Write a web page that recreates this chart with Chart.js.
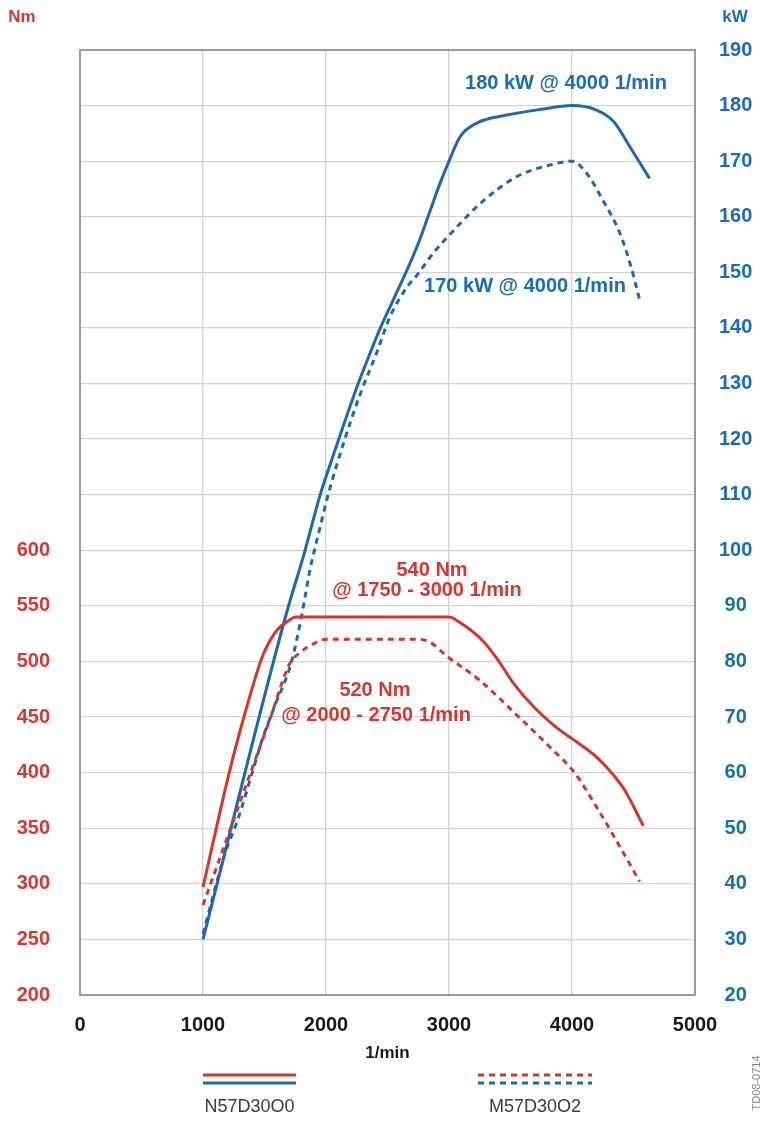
<!DOCTYPE html>
<html>
<head>
<meta charset="utf-8">
<title>N57D30O0 / M57D30O2 – Drehmoment und Leistung</title>
<script src="https://cdn.jsdelivr.net/npm/chart.js@4.4.1/dist/chart.umd.min.js"></script>
<style>
  html, body { margin: 0; padding: 0; background: #ffffff; }
  #wrap { position: relative; width: 769px; height: 1121px; }
  canvas { display: block; }
</style>
</head>
<body>
<div id="wrap"><canvas id="c" width="769" height="1121"></canvas></div>
<script>
// Engine speed axis (1/min)
const rpmTicks = [0, 1000, 2000, 3000, 4000, 5000];

// N57D30O0 torque curve (Nm)
const n57TorqueRpm = [1000, 1200, 1300, 1400, 1450, 1500, 1600, 1700, 1750, 3000, 3090, 3280, 3400, 3520, 3690, 3880, 4020, 4200, 4320, 4430, 4580];
const n57TorqueNm  = [297, 394, 437, 476, 494, 509, 528, 537, 540, 540, 535, 518, 501, 481, 459, 440, 429, 414, 400, 384, 352];

// M57D30O2 torque curve (Nm)
const m57TorqueRpm = [1000, 1130, 1400, 1550, 1700, 1800, 1900, 2000, 2750, 2850, 2980, 3250, 3550, 3820, 4020, 4200, 4360, 4550];
const m57TorqueNm  = [281, 321, 404, 450, 497, 509, 516, 520, 520, 517, 505, 483, 452, 423, 400, 369, 339, 302];

// N57D30O0 power curve (kW)
const n57PowerRpm = [1000, 1670, 1830, 1950, 2050, 2150, 2250, 2350, 2450, 2550, 2650, 2750, 2850, 2920, 3000, 3090, 3230, 3470, 3740, 4000, 4200, 4340, 4470, 4630];
const n57PowerKw  = [30, 88, 100, 109.8, 116.5, 123, 129.3, 135, 140.4, 145.2, 150, 155.2, 161.3, 165.6, 170, 174.4, 176.9, 178.3, 179.3, 180, 179.2, 177.1, 172.6, 166.9];

// M57D30O2 power curve (kW)
const m57PowerRpm = [1000, 1180, 1290, 1400, 1490, 1580, 1720, 1800, 1870, 1950, 2020, 2150, 2290, 2410, 2520, 2660, 2740, 2870, 3040, 3260, 3550, 3820, 4000, 4120, 4250, 4390, 4480, 4550];
const m57PowerKw  = [31, 45.5, 52, 60, 66.5, 71.8, 80, 88, 96.5, 104, 110.2, 119.8, 128.8, 135.4, 142, 147.4, 149.5, 153.4, 157.6, 162.5, 167.2, 169.3, 170, 167.8, 163, 157, 151, 145];

// Axis tick values
const torqueTicks = [200, 250, 300, 350, 400, 450, 500, 550, 600];
const powerTicks  = [20, 30, 40, 50, 60, 70, 80, 90, 100, 110, 120, 130, 140, 150, 160, 170, 180, 190];

// Rated-value captions, anchored in data units on the named axis
const captions = [
  { text: '180 kW @ 4000 1/min',  rpm: 3951, value: 183.9, axis: 'yKw', color: 'blue' },
  { text: '170 kW @ 4000 1/min',  rpm: 3618, value: 147.4, axis: 'yKw', color: 'blue' },
  { text: '540 Nm',               rpm: 2862, value: 581.5, axis: 'yNm', color: 'red' },
  { text: '@ 1750 - 3000 1/min',  rpm: 2821, value: 563.5, axis: 'yNm', color: 'red' },
  { text: '520 Nm',               rpm: 2398, value: 473.5, axis: 'yNm', color: 'red' },
  { text: '@ 2000 - 2750 1/min',  rpm: 2407, value: 451.5, axis: 'yNm', color: 'red' }
];

const RED = '#d5362c';
const BLUE = '#1f67b1';
const RED_TEXT = '#d23a30';
const BLUE_TEXT = '#1b6cb6';
const FONT = '"Liberation Sans", Arial, Helvetica, sans-serif';
const DASH = [6, 5];

const pairs = (xs, ys) => xs.map((x, i) => ({ x: x, y: ys[i] }));

// Frame around the plot area
const framePlugin = {
  id: 'frame',
  afterDraw(chart) {
    const { ctx, chartArea: a } = chart;
    ctx.save();
    ctx.strokeStyle = '#9a9a9a';
    ctx.lineWidth = 2;
    ctx.strokeRect(a.left, a.top, a.right - a.left, a.bottom - a.top);
    ctx.restore();
  }
};

// Rated-value captions and axis unit labels
const textPlugin = {
  id: 'texts',
  afterDatasetsDraw(chart) {
    const { ctx, scales } = chart;
    ctx.save();
    ctx.font = 'bold 20px ' + FONT;
    ctx.textAlign = 'center';
    ctx.textBaseline = 'middle';
    captions.forEach(c => {
      ctx.fillStyle = c.color === 'red' ? RED_TEXT : BLUE_TEXT;
      ctx.fillText(c.text, scales.x.getPixelForValue(c.rpm), scales[c.axis].getPixelForValue(c.value));
    });
    ctx.font = 'bold 17px ' + FONT;
    ctx.fillStyle = RED_TEXT;
    ctx.fillText('Nm', 22, 17);
    ctx.fillStyle = BLUE_TEXT;
    ctx.fillText('kW', 735, 17);
    ctx.restore();
  }
};

// Engine legend below the axis
const legendPlugin = {
  id: 'engineLegend',
  afterDraw(chart) {
    const { ctx } = chart;
    const entries = [
      { label: 'N57D30O0', x0: 203, x1: 296, dash: [] },
      { label: 'M57D30O2', x0: 478, x1: 592, dash: DASH }
    ];
    ctx.save();
    entries.forEach(e => {
      ctx.lineWidth = 3;
      ctx.setLineDash(e.dash);
      ctx.strokeStyle = RED;
      ctx.beginPath(); ctx.moveTo(e.x0, 1075); ctx.lineTo(e.x1, 1075); ctx.stroke();
      ctx.strokeStyle = BLUE;
      ctx.beginPath(); ctx.moveTo(e.x0, 1083); ctx.lineTo(e.x1, 1083); ctx.stroke();
      ctx.setLineDash([]);
      ctx.font = '18px ' + FONT;
      ctx.fillStyle = '#3a3a3a';
      ctx.textAlign = 'center';
      ctx.textBaseline = 'middle';
      ctx.fillText(e.label, (e.x0 + e.x1) / 2, 1107);
    });
    ctx.translate(757, 1083);
    ctx.rotate(-Math.PI / 2);
    ctx.font = '11px ' + FONT;
    ctx.fillStyle = '#8a8a8a';
    ctx.fillText('TD08-0714', 0, 0);
    ctx.restore();
  }
};

const lineStyle = (color, dashed) => ({
  borderColor: color,
  backgroundColor: color,
  borderWidth: 3,
  borderDash: dashed ? DASH : [],
  pointRadius: 0,
  fill: false,
  cubicInterpolationMode: 'monotone'
});

const plainNumber = v => String(v);

new Chart(document.getElementById('c'), {
  type: 'line',
  data: {
    datasets: [
      Object.assign({ label: 'N57D30O0 Nm', data: pairs(n57TorqueRpm, n57TorqueNm), yAxisID: 'yNm' }, lineStyle(RED, false)),
      Object.assign({ label: 'M57D30O2 Nm', data: pairs(m57TorqueRpm, m57TorqueNm), yAxisID: 'yNm' }, lineStyle(RED, true)),
      Object.assign({ label: 'N57D30O0 kW', data: pairs(n57PowerRpm, n57PowerKw), yAxisID: 'yKw' }, lineStyle(BLUE, false)),
      Object.assign({ label: 'M57D30O2 kW', data: pairs(m57PowerRpm, m57PowerKw), yAxisID: 'yKw' }, lineStyle(BLUE, true))
    ]
  },
  options: {
    responsive: false,
    devicePixelRatio: 1,
    animation: false,
    layout: { padding: { top: 50, left: 0, right: 0, bottom: 0 } },
    plugins: { legend: { display: false }, tooltip: { enabled: false } },
    scales: {
      x: {
        type: 'linear',
        min: rpmTicks[0],
        max: rpmTicks[rpmTicks.length - 1],
        afterBuildTicks: s => { s.ticks = rpmTicks.map(v => ({ value: v })); },
        afterFit: s => { s.height = 126; },
        grid: { color: '#d2d2d2', lineWidth: 1.3, drawTicks: false },
        border: { display: false },
        ticks: { color: '#1a1a1a', font: { family: FONT, size: 20, weight: 'bold' }, padding: 18, maxRotation: 0, callback: plainNumber },
        title: { display: true, text: '1/min', color: '#1a1a1a', font: { family: FONT, size: 17, weight: 'bold' }, padding: { top: 0, bottom: 57 } }
      },
      yNm: {
        type: 'linear',
        position: 'left',
        min: 200,
        max: 1050,
        afterBuildTicks: s => { s.ticks = torqueTicks.map(v => ({ value: v })); },
        afterFit: s => { s.width = 80; },
        grid: { display: false, drawTicks: false },
        border: { display: false },
        ticks: { color: RED_TEXT, font: { family: FONT, size: 20, weight: 'bold' }, padding: 30, crossAlign: 'near', callback: plainNumber }
      },
      yKw: {
        type: 'linear',
        position: 'right',
        min: 20,
        max: 190,
        afterBuildTicks: s => { s.ticks = powerTicks.map(v => ({ value: v })); },
        afterFit: s => { s.width = 74; },
        grid: { color: '#d2d2d2', lineWidth: 1.3, drawTicks: false },
        border: { display: false },
        ticks: { color: BLUE_TEXT, font: { family: FONT, size: 20, weight: 'bold' }, padding: 24, crossAlign: 'center', callback: plainNumber }
      }
    }
  },
  plugins: [framePlugin, textPlugin, legendPlugin]
});
</script>
</body>
</html>
